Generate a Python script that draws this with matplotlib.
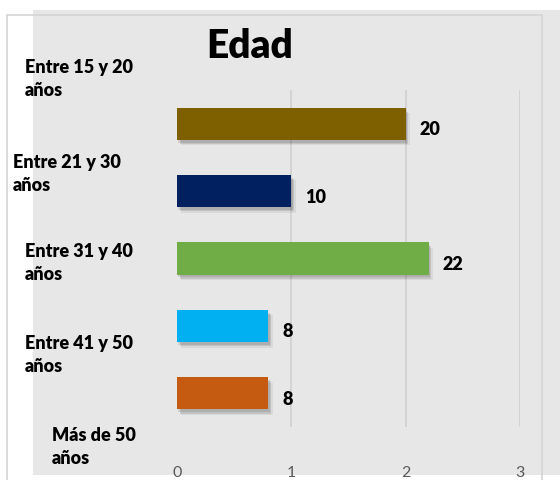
import matplotlib
matplotlib.use("Agg")
import matplotlib.pyplot as plt
from matplotlib.patches import Rectangle
import matplotlib.patheffects as pe

# Data
categories = ["Entre 15 y 20\naños", "Entre 21 y 30\naños", "Entre 31 y 40\naños",
              "Entre 41 y 50\naños", "Más de 50\naños"]
bar_lengths = [2.0, 1.0, 2.2, 0.8, 0.8]
bar_labels = ["20", "10", "22", "8", "8"]
bar_colors = ["#7f6000", "#002060", "#70ad47", "#00b0f0", "#c55a11"]
x_ticks = [0, 1, 2, 3]

W, H = 560, 480
fig = plt.figure(figsize=(W / 100, H / 100), dpi=100)
fig.patch.set_facecolor("white")

FONT = "Lato"

# background panel and frame
fig.add_artist(Rectangle((33 / W, 1 - 475 / H), (W - 33) / W, (475 - 10) / H,
                         transform=fig.transFigure, facecolor="#e7e7e7",
                         edgecolor="none", zorder=-10))
fig.add_artist(Rectangle((7 / W, 1 - 485 / H), (542 - 7) / W, (485 - 15) / H,
                         transform=fig.transFigure, facecolor="none",
                         edgecolor="#d4d4d4", lw=1.2, zorder=-9))

ax = fig.add_axes([177 / W, 1 - 427 / H, 343 / W, 337 / H])
ax.set_facecolor("none")

y = list(range(len(bar_lengths)))
bars = ax.barh(y, bar_lengths, height=0.48, color=bar_colors, zorder=3)
shadow = [pe.SimplePatchShadow(offset=(1, -2), shadow_rgbFace="black", alpha=0.10),
          pe.SimplePatchShadow(offset=(2, -3), shadow_rgbFace="black", alpha=0.10),
          pe.SimplePatchShadow(offset=(3, -4), shadow_rgbFace="black", alpha=0.06),
          pe.Normal()]
for b in bars:
    b.set_path_effects(shadow)

for yi, L, lab in zip(y, bar_lengths, bar_labels):
    ax.annotate(lab, (L, yi), xytext=(14, -6), textcoords="offset pixels",
                ha="left", va="center", fontsize=13, fontweight="heavy",
                family=FONT, color="black")

ax.set_xlim(0, 3)
ax.set_ylim(4.5, -0.5)
ax.set_xticks(x_ticks)
ax.set_xticklabels([str(t) for t in x_ticks], family=FONT, fontsize=11.5, color="#595959")
ax.set_yticks([])
ax.tick_params(axis="x", length=0, pad=28)
ax.xaxis.grid(True, color="#d0d0d0", lw=1.2, zorder=0)
ax.get_xgridlines()[0].set_visible(False)
for s in ax.spines.values():
    s.set_visible(False)

# category labels (offset from the bars as in the reference)
label_pos = [(25, 79), (13, 174), (25, 263), (25, 355), (52, 447)]
for txt, (px, py) in zip(categories, label_pos):
    fig.text(px / W, 1 - py / H, txt, ha="left", va="center", fontsize=13,
             fontweight="heavy", family=FONT, linespacing=1.45, color="black")

fig.text(250 / W, 1 - 46 / H, "Edad", ha="center", va="center", fontsize=28,
         fontweight="heavy", family=FONT, color="black")

fig.savefig("out.png", dpi=100, facecolor="white")
